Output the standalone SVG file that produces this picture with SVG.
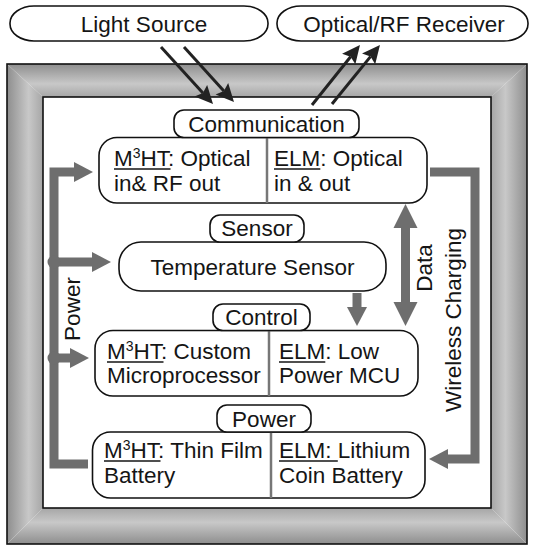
<svg xmlns="http://www.w3.org/2000/svg" xmlns:xlink="http://www.w3.org/1999/xlink" width="533" height="550" viewBox="0 0 533 550">
<style>
  text { font-family: "Liberation Sans", Arial, sans-serif; font-size: 22.5px; fill: #151515; }
  .mid { text-anchor: middle; }
  .box { fill: #ffffff; stroke: #111; stroke-width: 1.6; }
  .div { stroke: #777; stroke-width: 2.5; }
  .ul { stroke: #151515; stroke-width: 1.7; }
  .bk { fill: none; stroke: #222; stroke-width: 3; marker-end: url(#bh); }
  .gc { fill: none; stroke: #6e6e6e; stroke-width: 9; stroke-linejoin: miter; }
  .sup { font-size: 14px; }
</style>
<defs>
  <linearGradient id="gT" x1="0" y1="0" x2="0" y2="1">
    <stop offset="0" stop-color="#8e8e8e"/>
    <stop offset="0.6" stop-color="#c8c8c8"/>
    <stop offset="1" stop-color="#a6a6a6"/>
  </linearGradient>
  <linearGradient id="gB" xlink:href="#gT" href="#gT" x1="0" y1="1" x2="0" y2="0"/>
  <linearGradient id="gL" xlink:href="#gT" href="#gT" x1="0" y1="0" x2="1" y2="0"/>
  <linearGradient id="gR" xlink:href="#gT" href="#gT" x1="1" y1="0" x2="0" y2="0"/>
  <marker id="bh" markerUnits="userSpaceOnUse" markerWidth="18" markerHeight="17" refX="3" refY="8.5" orient="auto" overflow="visible">
    <path d="M0,0 L18,8.5 L0,17 L3,8.5 z" fill="#222"/>
  </marker>
  <marker id="gh" markerUnits="userSpaceOnUse" markerWidth="20" markerHeight="22" refX="1" refY="11" orient="auto" overflow="visible">
    <path d="M0,1 L19,11 L0,21 z" fill="#6e6e6e"/>
  </marker>
  <marker id="dh" markerUnits="userSpaceOnUse" markerWidth="24" markerHeight="24" refX="1" refY="12" orient="auto-start-reverse" overflow="visible">
    <path d="M0,0 L24,12 L0,24 z" fill="#6e6e6e"/>
  </marker>
</defs>

<g id="frame">
  <polygon points="7,64 527,64 491,97 43,97" fill="url(#gT)"/>
  <polygon points="7,544 527,544 491,508 43,508" fill="url(#gB)"/>
  <polygon points="7,64 43,97 43,508 7,544" fill="url(#gL)"/>
  <polygon points="527,64 491,97 491,508 527,544" fill="url(#gR)"/>
  <rect x="7" y="64" width="520" height="480" fill="none" stroke="#111" stroke-width="1.6"/>
  <rect x="43" y="97" width="448" height="411" fill="#fff" stroke="#111" stroke-width="1.6"/>
</g>

<g id="light-source">
  <rect class="box" x="10" y="6" width="258" height="35" rx="24" ry="17"/>
  <text class="mid" x="144" y="32">Light Source</text>
</g>

<g id="receiver">
  <rect class="box" x="277" y="6" width="251" height="35" rx="24" ry="17"/>
  <text class="mid" x="404" y="32">Optical/RF Receiver</text>
</g>

<g id="communication">
  <rect class="box" x="99" y="137.5" width="328" height="65.5" rx="18"/>
  <line class="div" x1="267" y1="137.5" x2="267" y2="203"/>
  <rect class="box" x="174" y="110" width="185" height="27.5" rx="10"/>
  <text class="mid" x="266.5" y="131.5">Communication</text>
  <text x="114" y="166">M<tspan class="sup" dy="-8">3</tspan><tspan dy="8">HT: Optical</tspan></text>
  <line class="ul" x1="114" y1="169" x2="170.5" y2="169"/>
  <text x="114" y="191">in&amp; RF out</text>
  <text x="274" y="166">ELM: Optical</text>
  <line class="ul" x1="274" y1="169" x2="320.3" y2="169"/>
  <text x="274" y="191">in &amp; out</text>
</g>

<g id="sensor">
  <rect class="box" x="119" y="242" width="267" height="49" rx="22"/>
  <rect class="box" x="210" y="215" width="94" height="27" rx="10"/>
  <text class="mid" x="257" y="236">Sensor</text>
  <text class="mid" x="252.5" y="275">Temperature Sensor</text>
</g>

<g id="control">
  <rect class="box" x="95" y="330.5" width="323" height="65.5" rx="18"/>
  <line class="div" x1="269" y1="330.5" x2="269" y2="396"/>
  <rect class="box" x="213" y="304" width="97" height="26.5" rx="10"/>
  <text class="mid" x="261.5" y="324.5">Control</text>
  <text x="107" y="359">M<tspan class="sup" dy="-8">3</tspan><tspan dy="8">HT: Custom</tspan></text>
  <line class="ul" x1="107" y1="362" x2="163.5" y2="362"/>
  <text x="107" y="382.5">Microprocessor</text>
  <text x="279" y="359">ELM: Low</text>
  <line class="ul" x1="279" y1="362" x2="325.3" y2="362"/>
  <text x="279" y="382.5">Power MCU</text>
</g>

<g id="power">
  <rect class="box" x="92.5" y="432" width="332.5" height="66" rx="18"/>
  <line class="div" x1="271" y1="432" x2="271" y2="498"/>
  <rect class="box" x="217" y="405" width="94" height="27" rx="10"/>
  <text class="mid" x="264" y="426.5">Power</text>
  <text x="104" y="458">M<tspan class="sup" dy="-8">3</tspan><tspan dy="8">HT: Thin Film</tspan></text>
  <line class="ul" x1="104" y1="461" x2="160.5" y2="461"/>
  <text x="104" y="483">Battery</text>
  <text x="279" y="458">ELM: Lithium</text>
  <line class="ul" x1="279" y1="461" x2="337.8" y2="461"/>
  <text x="279" y="483">Coin Battery</text>
</g>

<g id="connectors">
  <line class="bk" x1="161" y1="47" x2="202.9" y2="92.9"/>
  <line class="bk" x1="184" y1="47" x2="223.9" y2="90.9"/>
  <line class="bk" x1="312" y1="105" x2="350.6" y2="56.7"/>
  <line class="bk" x1="332" y1="104" x2="370.5" y2="56.6"/>

  <path class="gc" d="M88,464 H54 V172 H75" marker-end="url(#gh)"/>
  <path class="gc" d="M54,262 H93" marker-end="url(#gh)"/>
  <path class="gc" d="M54,358 H71" marker-end="url(#gh)"/>
  <circle cx="54" cy="262" r="6.5" fill="#6e6e6e"/>
  <circle cx="54" cy="358" r="6.5" fill="#6e6e6e"/>

  <path class="gc" d="M357,293 V308" marker-end="url(#gh)"/>
  <path class="gc" d="M405.5,227 V303" marker-start="url(#dh)" marker-end="url(#dh)"/>
  <path class="gc" d="M430,172 H475 V459 H447" marker-end="url(#gh)"/>

  <text class="mid" transform="translate(80,309) rotate(-90)">Power</text>
  <text class="mid" transform="translate(432,268) rotate(-90)">Data</text>
  <text class="mid" transform="translate(461,320) rotate(-90)">Wireless Charging</text>
</g>
</svg>
